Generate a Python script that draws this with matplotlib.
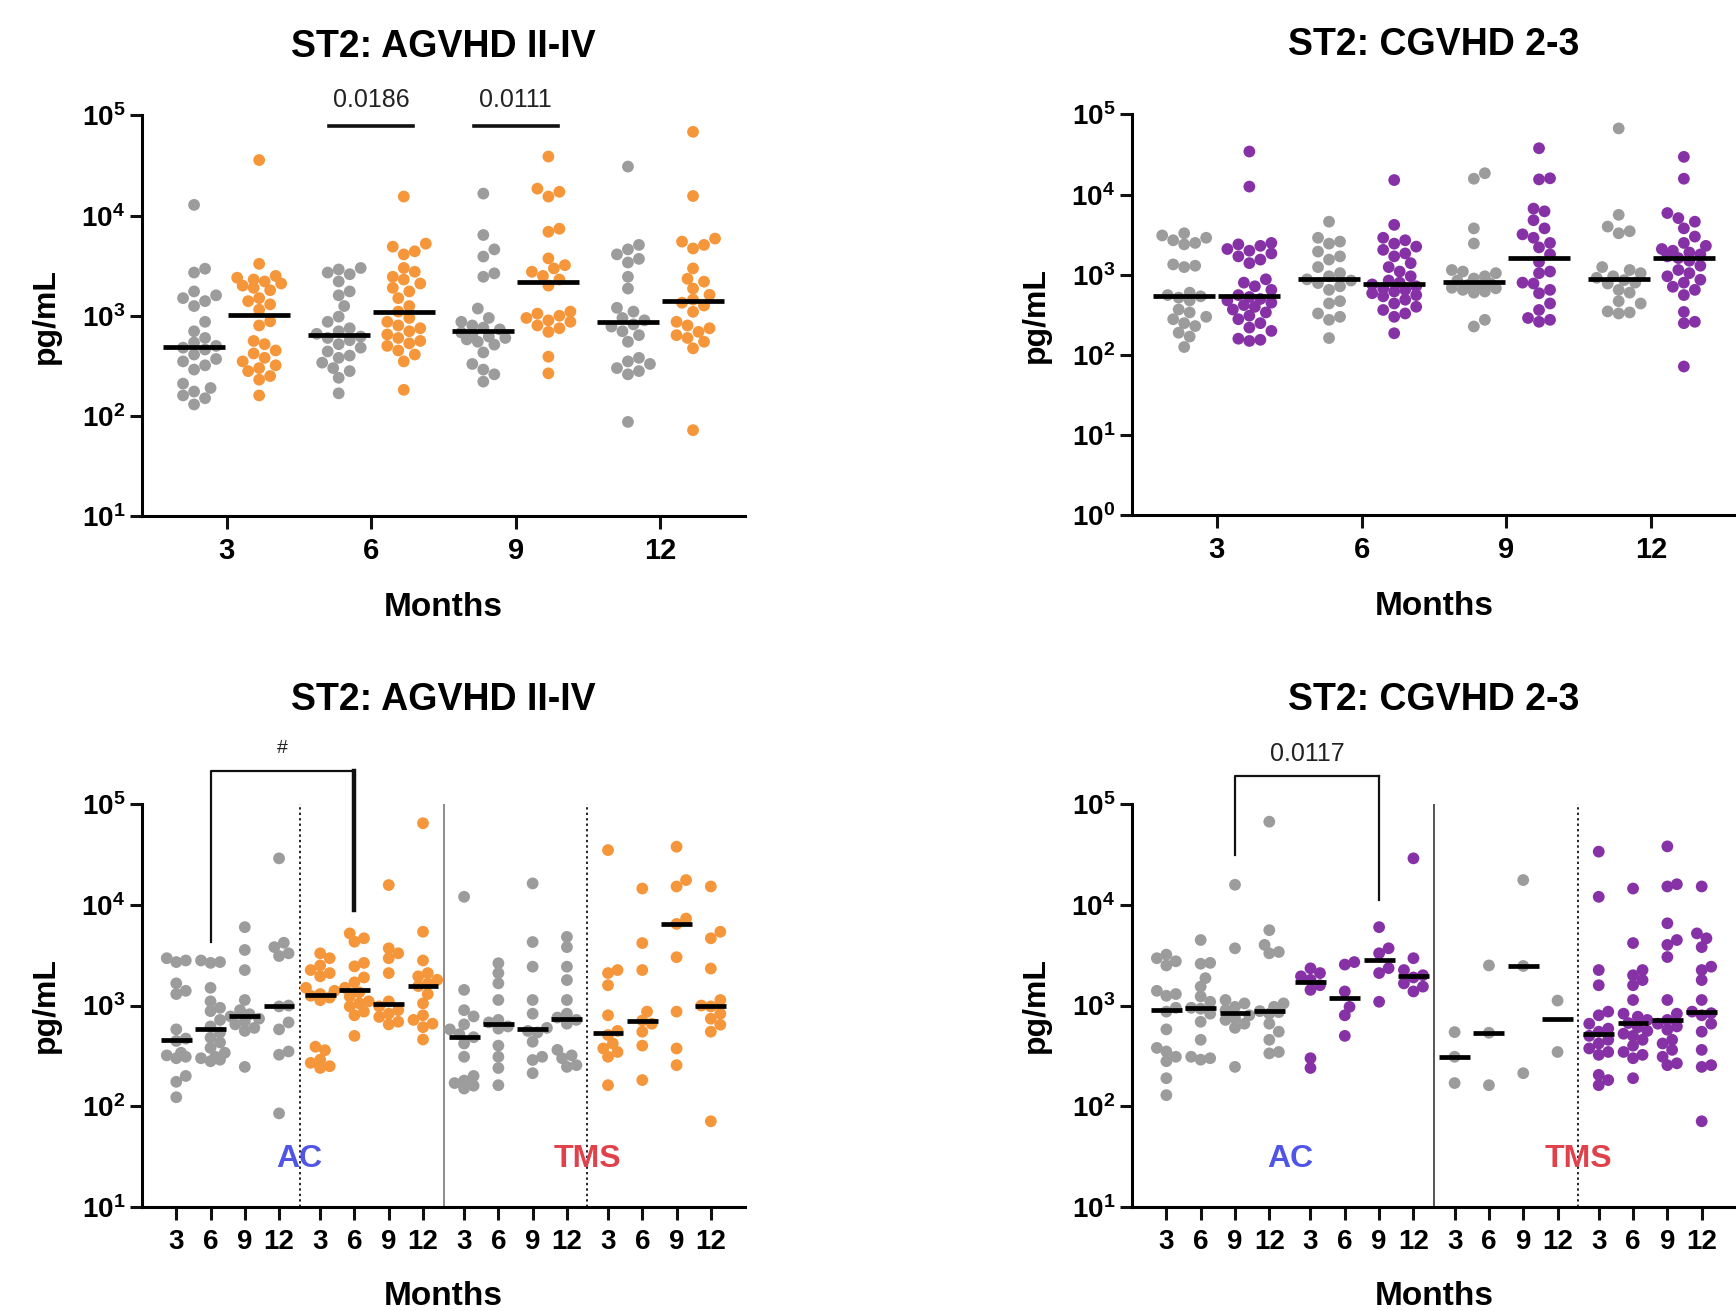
import numpy as np
import matplotlib
matplotlib.use('Agg')
import matplotlib.pyplot as plt
import matplotlib.transforms as mtransforms
from matplotlib.ticker import FixedLocator, NullLocator, FuncFormatter

plt.rcParams['font.family'] = ['Liberation Sans', 'DejaVu Sans']
plt.rcParams['mathtext.fontset'] = 'custom'
plt.rcParams['mathtext.rm'] = 'Liberation Sans'
plt.rcParams['mathtext.bf'] = 'Liberation Sans:bold'

GRAY = '#9c9c9c'
ORANGE = '#f5963a'
PURPLE = '#8632a6'

months = ['3', '6', '9', '12']

# ST2 (pg/mL) per month: 3, 6, 9, 12 -- all patients
agvhd_none = [
    [12800, 2950, 2700, 1750, 1600, 1500, 1400, 1250, 870, 700, 600, 540, 500, 480, 460, 410, 370, 350, 320, 290, 210, 190, 175, 160, 150, 130],
    [3000, 2900, 2700, 2600, 2200, 1750, 1600, 1250, 980, 870, 750, 700, 660, 620, 600, 570, 520, 480, 440, 400, 380, 340, 300, 280, 240, 168],
    [16600, 6400, 4600, 3900, 2650, 2450, 1180, 950, 870, 800, 760, 730, 680, 650, 620, 600, 580, 550, 515, 430, 330, 290, 260, 220],
    [30900, 5100, 4600, 4100, 3700, 3400, 2450, 1870, 1200, 1100, 950, 900, 820, 780, 700, 640, 550, 380, 350, 330, 300, 280, 260, 87],
]
agvhd_gvhd = [
    [35900, 3300, 2500, 2400, 2300, 2200, 2100, 2000, 1900, 1800, 1500, 1400, 1300, 1150, 880, 800, 560, 520, 450, 420, 380, 350, 320, 300, 280, 250, 230, 160],
    [15500, 5250, 4900, 4400, 4100, 3000, 2750, 2450, 2300, 2100, 1900, 1750, 1500, 1250, 1100, 950, 870, 800, 750, 700, 650, 600, 560, 530, 500, 450, 410, 350, 182],
    [38900, 18600, 17300, 15500, 7400, 6900, 3740, 3200, 2970, 2750, 2500, 2300, 2000, 1100, 1050, 1000, 950, 900, 870, 800, 750, 690, 390, 266],
    [68700, 15700, 5900, 5500, 5100, 4700, 2970, 2340, 2190, 1870, 1620, 1450, 1350, 1265, 1095, 870, 800, 750, 690, 640, 600, 550, 473, 72],
]
cgvhd_none = [
    [3300, 3100, 2900, 2700, 2500, 2400, 1350, 1300, 1250, 600, 560, 540, 520, 480, 370, 340, 300, 280, 250, 230, 190, 170, 126],
    [4600, 2900, 2600, 2450, 1950, 1700, 1550, 1250, 1050, 960, 880, 850, 790, 720, 650, 470, 440, 330, 300, 275, 163],
    [18500, 15800, 3800, 2460, 1150, 1100, 1050, 960, 900, 850, 780, 750, 720, 690, 680, 650, 620, 600, 275, 227],
    [67000, 5600, 4000, 3500, 3300, 1250, 1150, 1050, 960, 920, 860, 800, 780, 650, 600, 470, 440, 350, 340, 330],
]
cgvhd_gvhd = [
    [34500, 12600, 2500, 2400, 2300, 2100, 2000, 1850, 1700, 1550, 1400, 880, 800, 720, 650, 560, 530, 500, 480, 450, 420, 400, 370, 340, 310, 280, 250, 220, 200, 160, 155, 150],
    [15200, 4200, 2900, 2700, 2450, 2250, 2050, 1850, 1700, 1400, 1250, 1100, 960, 850, 800, 760, 720, 680, 650, 620, 590, 560, 540, 490, 440, 400, 365, 330, 300, 187],
    [37900, 16000, 15500, 6700, 6200, 4800, 3800, 3200, 2900, 2500, 2200, 1800, 1450, 1100, 1050, 800, 780, 650, 590, 440, 365, 290, 275, 260],
    [29600, 15800, 5900, 5100, 4600, 3800, 3000, 2500, 2300, 2100, 2000, 1900, 1800, 1700, 1620, 1500, 1300, 1150, 1050, 960, 870, 800, 710, 650, 560, 345, 260, 250, 72],
]

# split by conditioning: AC and TMS
agvhd_ac_none = [
    [2950, 2800, 2700, 1660, 1400, 1300, 580, 470, 445, 340, 320, 310, 300, 200, 175, 123],
    [2800, 2700, 2650, 1500, 1100, 950, 880, 720, 620, 540, 480, 430, 380, 340, 310, 300, 290, 280],
    [6000, 3560, 2250, 1135, 900, 820, 780, 740, 700, 650, 600, 560, 246],
    [28900, 4200, 3800, 3300, 3100, 1000, 980, 680, 580, 350, 325, 85],
]
agvhd_ac_gvhd = [
    [3300, 2950, 2500, 2250, 2100, 1950, 1500, 1400, 1300, 1250, 1200, 1130, 390, 360, 290, 270, 250, 240],
    [5200, 4650, 4300, 2650, 2450, 1900, 1700, 1500, 1350, 1230, 1100, 1050, 980, 870, 800, 500],
    [15700, 3700, 3300, 2950, 2100, 1100, 980, 900, 830, 770, 690, 650],
    [64500, 5400, 2800, 2100, 1950, 1800, 1650, 1560, 1300, 1050, 800, 720, 660, 610, 460],
]
agvhd_tms_none = [
    [12000, 1430, 900, 780, 650, 580, 520, 485, 420, 310, 200, 180, 170, 160, 150],
    [2630, 2100, 1660, 1135, 720, 680, 620, 590, 400, 310, 240, 162],
    [16300, 4270, 2430, 1135, 830, 600, 560, 540, 437, 310, 288, 213],
    [4800, 3800, 2430, 1790, 1135, 830, 760, 720, 660, 363, 320, 300, 256, 246],
]
agvhd_tms_gvhd = [
    [34900, 2250, 2100, 1590, 800, 560, 510, 420, 375, 346, 310, 162],
    [14500, 4170, 2250, 870, 710, 660, 550, 400, 182],
    [37700, 17600, 15200, 7300, 6460, 3020, 870, 375, 256],
    [15200, 5400, 4650, 2330, 1135, 1000, 980, 830, 740, 645, 550, 71],
]
cgvhd_ac_none = [
    [3200, 2950, 2750, 2500, 1400, 1300, 1250, 950, 870, 580, 380, 350, 310, 280, 190, 129],
    [4470, 2650, 2600, 1870, 1540, 1230, 1090, 950, 930, 830, 690, 457, 310, 300, 290],
    [15800, 3700, 1135, 1050, 970, 900, 800, 750, 720, 660, 600, 246],
    [66800, 5600, 4000, 3400, 3300, 1050, 970, 880, 860, 830, 660, 550, 457, 346, 335],
]
cgvhd_ac_gvhd = [
    [2340, 2100, 1950, 1800, 1590, 1430, 300, 240],
    [2700, 2550, 1380, 970, 800, 500],
    [6000, 3700, 3300, 2350, 2100, 1090],
    [28900, 2950, 2250, 2000, 1900, 1660, 1540, 1380],
]
cgvhd_tms_none = [
    [545, 310, 170],
    [2500, 537, 162],
    [17600, 2470, 213],
    [1120, 346],
]
cgvhd_tms_gvhd = [
    [33700, 12000, 2250, 1590, 870, 800, 660, 590, 550, 500, 457, 420, 375, 346, 324, 205, 182, 162],
    [14500, 4170, 2250, 2000, 1790, 1590, 1135, 830, 775, 720, 670, 610, 560, 525, 500, 457, 400, 346, 324, 300, 190],
    [38000, 16000, 15200, 6550, 4470, 4000, 3030, 1135, 830, 720, 660, 620, 575, 457, 420, 363, 310, 267, 256],
    [15200, 5200, 4650, 3800, 2430, 2250, 1790, 1135, 870, 840, 800, 660, 550, 363, 256, 246, 71],
]


def swarm_x(ax, xc, vals, gap, maxoff):
    # spread points sideways (in pixels); beyond maxoff they are allowed to overlap
    vals = np.asarray(vals, float)
    pts = ax.transData.transform(np.column_stack([np.full(len(vals), xc), vals]))
    x0, ys = pts[0, 0], pts[:, 1]
    cands = [0.0]
    k = 1
    while k * gap / 2 <= maxoff:
        cands += [k * gap / 2, -k * gap / 2]
        k += 1
    offs = np.zeros(len(vals))
    placed = []
    for i in np.argsort(ys):
        best, best_d = 0.0, -1.0
        for c in cands:
            d = min([np.hypot(c - px, ys[i] - py) for px, py in placed] or [1e9])
            if d >= gap:
                best = c
                break
            if d > best_d:
                best, best_d = c, d
        offs[i] = best
        placed.append((best, ys[i]))
    back = ax.transData.inverted().transform(np.column_stack([x0 + offs, ys]))
    return back[:, 0]


def column(ax, xc, vals, color, half, gap, maxoff):
    xs = swarm_x(ax, xc, vals, gap, maxoff)
    ax.scatter(xs, vals, s=72, color=color, edgecolors='none', zorder=3, clip_on=False)
    ax.plot([xc - half, xc + half], [np.median(vals)] * 2, color='black', lw=3.4,
            solid_capstyle='butt', zorder=4)


def base_axes(rect, ymin, xlim):
    ax = fig.add_axes(rect)
    ax.set_yscale('log')
    ax.set_ylim(ymin, 1e5)
    ax.set_xlim(*xlim)
    ax.yaxis.set_major_locator(FixedLocator(10.0 ** np.arange(round(np.log10(ymin)), 6)))
    ax.yaxis.set_minor_locator(NullLocator())
    ax.yaxis.set_major_formatter(FuncFormatter(lambda v, _: r'$\mathbf{10^{%d}}$' % round(np.log10(v))))
    for s in ['top', 'right']:
        ax.spines[s].set_visible(False)
    for s in ['left', 'bottom']:
        ax.spines[s].set_linewidth(2.2)
    ax.tick_params(axis='both', width=2.2, length=9, color='#111111')
    ax.tick_params(axis='y', labelsize=20, pad=3)
    ax.set_ylabel('pg/mL', fontsize=23, fontweight='bold')
    ax.yaxis.set_label_coords(-0.135, 0.5)
    return ax


def top_panel(rect, title, none, gvhd, color, ymin):
    ax = base_axes(rect, ymin, (-0.585, 3.585))
    for i in range(4):
        column(ax, i - 0.225, none[i], GRAY, 0.215, 11.0, 27)
        column(ax, i + 0.225, gvhd[i], color, 0.215, 11.0, 27)
    ax.set_xticks(range(4))
    ax.set_xticklabels(months)
    ax.tick_params(axis='x', labelsize=21, pad=6)
    for lab in ax.get_xticklabels():
        lab.set_fontweight('bold')
    ax.text(0.5, 1.172, title, transform=ax.transAxes, ha='center', va='center',
            fontsize=27, fontweight='bold')
    ax.text(0.5, -0.228, 'Months', transform=ax.transAxes, ha='center', va='center',
            fontsize=24, fontweight='bold')
    return ax


def bottom_panel(rect, title, ac_none, ac_gvhd, tms_none, tms_gvhd, color, sep_color, dotted):
    ax = base_axes(rect, 1e1, (-1.0, 16.6))
    groups = [(ac_none, GRAY), (ac_gvhd, color), (tms_none, GRAY), (tms_gvhd, color)]
    pos = []
    for g, (data, c) in enumerate(groups):
        for j in range(4):
            x = g * 4.2 + j
            pos.append(x)
            column(ax, x, data[j], c, 0.45, 9.5, 15)
    ax.set_xticks(pos)
    ax.set_xticklabels(months * 4)
    ax.tick_params(axis='x', labelsize=20, pad=7)
    for lab in ax.get_xticklabels():
        lab.set_fontweight('bold')
    ax.axvline(7.8, color=sep_color, lw=1.4, zorder=1)
    for xv in dotted:
        ax.axvline(xv, color='#222222', lw=1.4, ls=(0, (1.2, 1.6)), zorder=1)
    ax.text(3.6, 30, 'AC', color='#4f55e6', ha='center', va='center', fontsize=23, fontweight='bold')
    ax.text(12.0, 30, 'TMS', color='#e0424c', ha='center', va='center', fontsize=23, fontweight='bold')
    ax.text(0.5, 1.258, title, transform=ax.transAxes, ha='center', va='center',
            fontsize=27, fontweight='bold')
    ax.text(0.5, -0.222, 'Months', transform=ax.transAxes, ha='center', va='center',
            fontsize=24, fontweight='bold')
    return ax


def bar(ax, x0, x1, y, label):
    tr = mtransforms.blended_transform_factory(ax.transData, ax.transAxes)
    ax.plot([x0, x1], [y, y], color='#111111', lw=2.6, transform=tr, clip_on=False)
    ax.text((x0 + x1) / 2, y + 0.065, label, transform=tr, ha='center', va='center',
            fontsize=18, color='#222222')


def bracket(ax, x0, x1, y_top, y0, y1, label, size, lw_right):
    tr = mtransforms.blended_transform_factory(ax.transData, ax.transAxes)
    ax.plot([x0, x0, x1], [y0, y_top, y_top], color='#111111', lw=1.6, transform=tr, clip_on=False)
    ax.plot([x1, x1], [y_top, y1], color='#111111', lw=lw_right, transform=tr, clip_on=False)
    ax.text((x0 + x1) / 2, y_top + 0.055, label, transform=tr, ha='center', va='center',
            fontsize=size, color='#222222')


fig = plt.figure(figsize=(17.36, 13.11), dpi=100)

ax1 = top_panel([0.0818, 0.6064, 0.3474, 0.3055], 'ST2: AGVHD II-IV', agvhd_none, agvhd_gvhd, ORANGE, 1e1)
bar(ax1, 0.71, 1.29, 0.974, '0.0186')
bar(ax1, 1.71, 2.29, 0.974, '0.0111')

ax2 = top_panel([0.6521, 0.6068, 0.3479, 0.3059], 'ST2: CGVHD 2-3', cgvhd_none, cgvhd_gvhd, PURPLE, 1e0)

ax3 = bottom_panel([0.0818, 0.0793, 0.3474, 0.3074], 'ST2: AGVHD II-IV',
                   agvhd_ac_none, agvhd_ac_gvhd, agvhd_tms_none, agvhd_tms_gvhd, ORANGE, '#8c8c8c',
                   (3.6, 12.0))
bracket(ax3, 1.0, 5.2, 1.082, 0.657, 0.737, '#', 14, 3.2)

ax4 = bottom_panel([0.6521, 0.0793, 0.3479, 0.3074], 'ST2: CGVHD 2-3',
                   cgvhd_ac_none, cgvhd_ac_gvhd, cgvhd_tms_none, cgvhd_tms_gvhd, PURPLE, '#555555',
                   (12.0,))
bracket(ax4, 2.0, 6.2, 1.07, 0.873, 0.762, '0.0117', 18, 1.6)

fig.savefig('out.png', dpi=100)
